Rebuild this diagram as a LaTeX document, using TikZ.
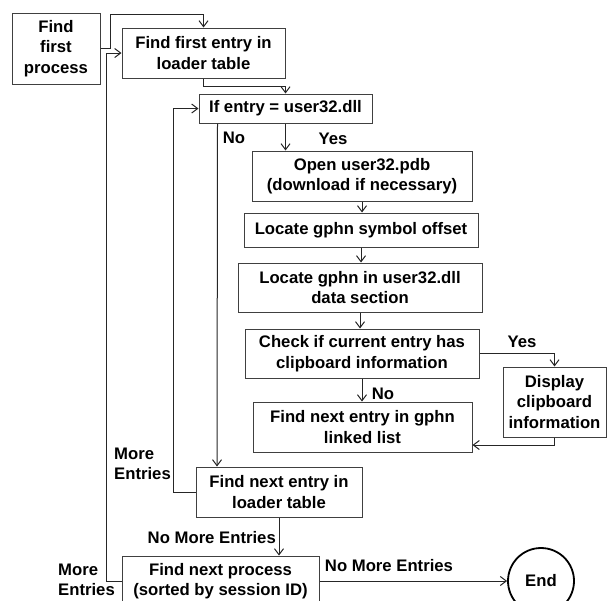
\documentclass[tikz,border=0pt]{standalone}
\usepackage{fontspec}
\setmainfont{Liberation Sans}
\usepackage{tikz}
\usetikzlibrary{arrows.meta}

\begin{document}
\begin{tikzpicture}[
    x=1pt,y=-1pt,
    font=\fontsize{16.7}{20.5}\selectfont\bfseries,
    box/.style={draw=black!75,line width=1pt,inner sep=0pt,align=center},
    arr/.style={-{Straight Barb[length=6pt,width=9pt]},line width=1pt,draw=black!85},
    lbl/.style={inner sep=0pt,align=left},
    endc/.style={draw=black,circle,line width=1.8pt,minimum size=66pt,inner sep=0pt}
  ]
    \useasboundingbox (0,0) rectangle (609,600);

    \node[box,minimum width=88pt,minimum height=71pt] (proc) at (56,48.5) {Find\\first\\process};
    \node[box,minimum width=163pt,minimum height=50pt] (first) at (203.5,53) {Find first entry in\\loader table};
    \node[box,minimum width=173pt,minimum height=29pt] (ifent) at (285.5,108.5) {If entry = user32.dll};
    \node[box,minimum width=220pt,minimum height=50pt] (pdb) at (362,176) {Open user32.pdb\\(download if necessary)};
    \node[box,minimum width=234pt,minimum height=34pt] (symoff) at (361,230) {Locate gphn symbol offset};
    \node[box,minimum width=244pt,minimum height=49pt] (gdata) at (360,287.5) {Locate gphn in user32.dll\\data section};
    \node[box,minimum width=234pt,minimum height=49pt] (check) at (362,353.5) {Check if current entry has\\clipboard information};
    \node[box,minimum width=103pt,minimum height=70pt] (disp) at (554.5,402) {Display\\clipboard\\information};
    \node[box,minimum width=219pt,minimum height=50pt] (glist) at (362.5,427) {Find next entry in gphn\\linked list};
    \node[box,minimum width=166pt,minimum height=50pt] (nextent) at (279,492) {Find next entry in\\loader table};
    \node[box,minimum width=197pt,minimum height=50pt] (nextproc) at (220.5,581) {Find next process\\(sorted by session ID)};
    \node[endc] (fin) at (541,581) {End};

    \draw[arr] (proc.east) -- ++(10,0) |- ([yshift=13pt]first.north) -- (first.north);
    \draw[arr] (nextproc.west) -- ++(-15,0) |- (first.west);
    \draw[arr] (first.south) -- ++(0,8) -| (ifent.north);
    \draw[arr] (ifent.south) -- (ifent.south |- pdb.north);
    \draw[arr] ([xshift=-68pt]ifent.south) -- ([xshift=-62pt]nextent.north);
    \draw[arr] (pdb.south) -- (pdb.south |- symoff.north);
    \draw[arr] (symoff.south) -- (symoff.south |- gdata.north);
    \draw[arr] (gdata.south) -- (gdata.south |- check.north);
    \draw[arr] (check.south) -- (check.south |- glist.north);
    \draw[arr] (check.east) -| (disp.north);
    \draw[arr] (disp.south) |- ([yshift=-18pt]glist.east);
    \draw[arr] (nextent.west) -- ++(-22,0) |- (ifent.west);
    \draw[arr] (nextent.south) -- (nextent.south |- nextproc.north);
    \draw[arr] (nextproc.east) -- (fin.west);

    \node[lbl] (yes1) at (333,139) {Yes};
    \node[lbl] (no1) at (234,138) {No};
    \node[lbl] (yes2) at (522,342) {Yes};
    \node[lbl] (no2) at (383,394) {No};
    \node[lbl,anchor=west] (more1) at (114,464) {More\\Entries};
    \node[lbl,anchor=east] (nomore1) at (276,538) {No More Entries};
    \node[lbl] (nomore2) at (389,566) {No More Entries};
    \node[lbl,anchor=west] (more2) at (58,580) {More\\Entries};
  \end{tikzpicture}
\end{document}
